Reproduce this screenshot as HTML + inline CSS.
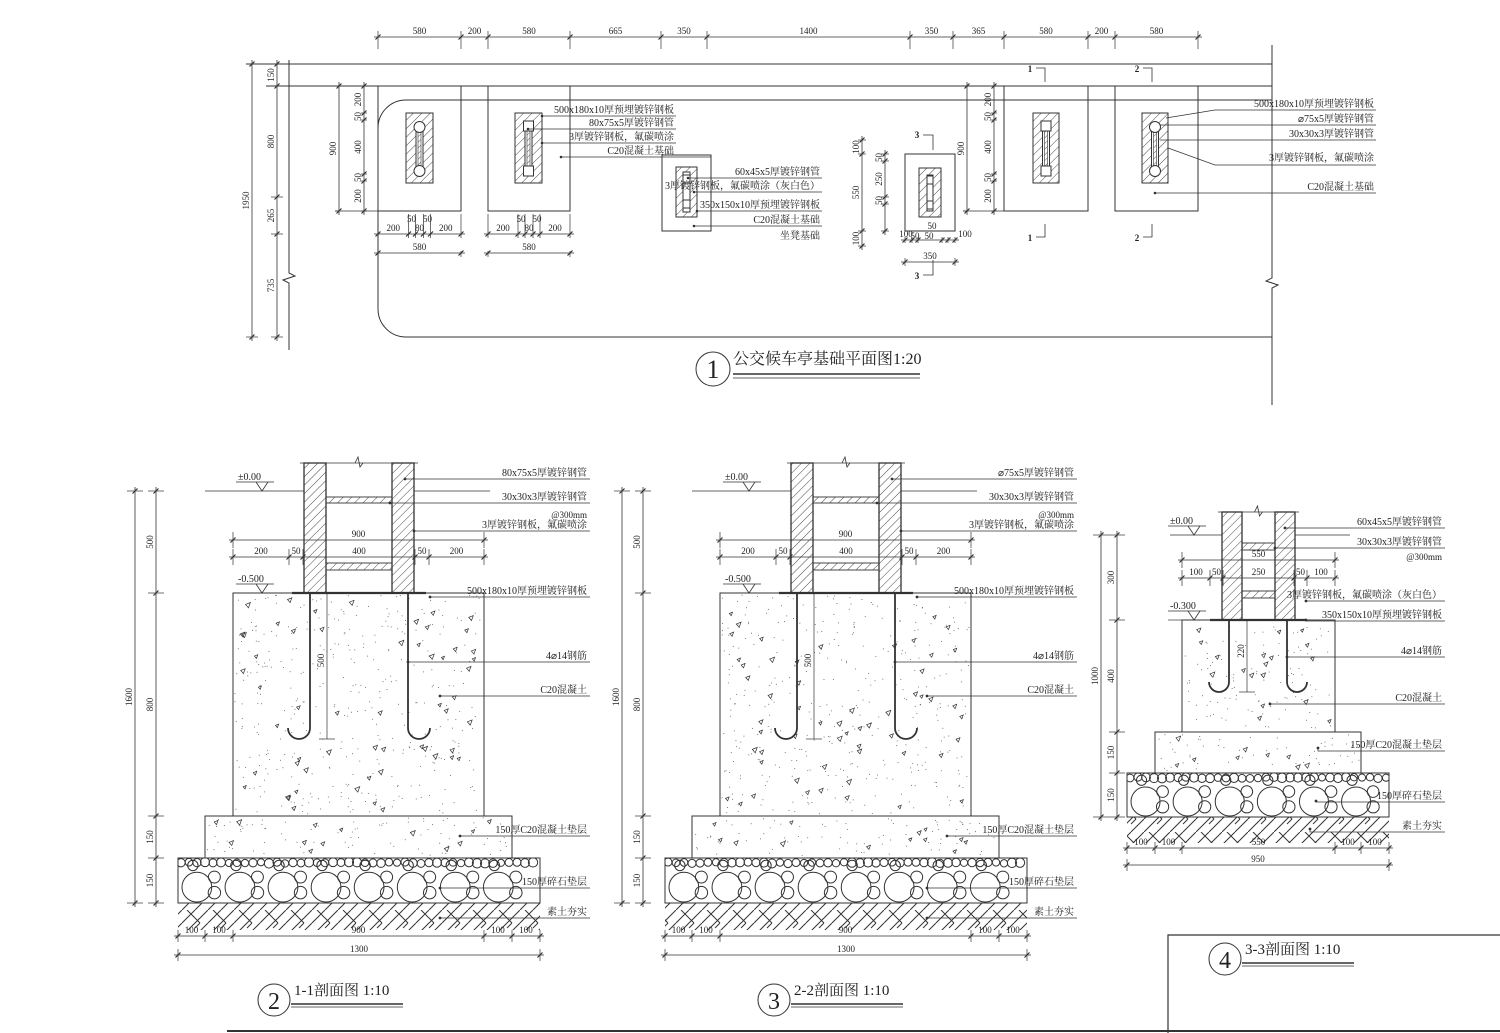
<!DOCTYPE html>
<html><head><meta charset="utf-8">
<style>
html,body{margin:0;padding:0;background:#fff;}
svg{display:block;}
text{font-family:"Liberation Serif","Noto Serif CJK SC",serif;fill:#222;}
</style></head>
<body>
<svg id="s" width="1500" height="1033" viewBox="0 0 1500 1033" xmlns="http://www.w3.org/2000/svg">
<defs>
<pattern id="h" patternUnits="userSpaceOnUse" width="6" height="6" patternTransform="rotate(45)">
<line x1="0" y1="0" x2="0" y2="6" stroke="#333" stroke-width="0.9"/></pattern>
<pattern id="hs" patternUnits="userSpaceOnUse" width="4" height="4" patternTransform="rotate(45)">
<line x1="0" y1="0" x2="0" y2="4" stroke="#333" stroke-width="0.8"/></pattern>
<pattern id="soil" patternUnits="userSpaceOnUse" width="26" height="26">
<path d="M0 26 L26 0 M13 26 L26 13 M0 13 L13 0 M5 0 L18 13 M18 13 L13 18" stroke="#333" stroke-width="1" fill="none"/></pattern>
</defs>
<g id="g" stroke="#333" stroke-width="1" fill="none"></g>
<g id="t" font-size="10"></g>
</svg>
<script>
const NS="http://www.w3.org/2000/svg";
const G=document.getElementById('g'),TT=document.getElementById('t');
function el(tag,a,par){const e=document.createElementNS(NS,tag);for(const k in a)e.setAttribute(k,a[k]);(par||G).appendChild(e);return e;}
function L(x1,y1,x2,y2,w){return el('line',{x1,y1,x2,y2,'stroke-width':w||1});}
function P(d,w,f){return el('path',{d,'stroke-width':w||1,fill:f||'none'});}
function R(x,y,w,h,f,sw){return el('rect',{x,y,width:w,height:h,fill:f||'none','stroke-width':sw||1});}
function C(cx,cy,r,f){return el('circle',{cx,cy,r,fill:f||'none'});}
function T(x,y,s,o){o=o||{};const e=el('text',{x,y,'font-size':o.size||10,'text-anchor':o.a||'middle'},TT);if(o.rot)e.setAttribute('transform',`rotate(-90 ${x} ${y})`);e.textContent=s;return e;}
function tick(x,y){L(x-2.5,y+2.5,x+2.5,y-2.5,1.2);}
function dimH(y,xs,labs,ext,sz){L(xs[0]-4,y,xs[xs.length-1]+4,y,0.8);xs.forEach(x=>{tick(x,y);if(ext)L(x,y-ext[0],x,y+ext[1],0.7);});labs.forEach((s,i)=>{if(s)T((xs[i]+xs[i+1])/2,y-3,s,{size:sz||9});});}
function dimV(x,ys,labs,ext,sz){L(x,ys[0]-4,x,ys[ys.length-1]+4,0.8);ys.forEach(y=>{tick(x,y);if(ext)L(x-ext[0],y,x+ext[1],y,0.7);});labs.forEach((s,i)=>{if(s)T(x-3,(ys[i]+ys[i+1])/2,s,{size:9,rot:1});});}
let seed=7;function rnd(){seed=(seed*9301+49297)%233280;return seed/233280;}

/* ================= PLAN ================= */
dimH(37,[378,461,488,570,661,707,910,953,1004,1088,1115,1198],['580','200','580','665','350','1400','350','365','580','200','580'],[6,12]);
L(246,64,1272,64);L(266,86,1272,86);
P('M1272 100 H406 A28 28 0 0 0 378 128 V309 A28 28 0 0 0 406 337 H1272');
P('M1272 45 V278 l-6 3 l12 4 l-6 3 V405');
P('M289 60 V273 l6 3 l-12 4 l6 3 V350');
dimV(252,[64,337],['1950'],[6,6]);
dimV(277,[64,86,197,234,337],['150','800','265','735'],[6,6]);
function footing(x,y,w,h){R(x,y,w,h);}
footing(378,86,83,125);footing(488,86,82,125);footing(1004,86,84,125);footing(1115,86,83,125);
L(335,211,461,211,0.8);
dimV(339,[86,211],['900'],[4,0]);
dimV(364,[86,113,120,174,181,211],['200','50','400','50','200'],[3,3]);
dimV(967,[86,211],['900'],[4,0]);
dimV(994,[86,113,120,174,181,211],['200','50','400','50','200'],[3,3]);
L(963,211,1004,211,0.8);
function postRound(x1,x2){R(x1,113,x2-x1,70,'url(#h)');const cx=(x1+x2)/2;R(cx-3.5,127,7,44,'#fff');R(cx-1.5,129,3,40,'url(#hs)',0.6);C(cx,127,5.5,'#fff');C(cx,171,5.5,'#fff');}
function postSq(x1,x2){R(x1,113,x2-x1,70,'url(#h)');const cx=(x1+x2)/2;R(cx-3.5,127,7,44,'#fff');R(cx-1.5,130,3,38,'url(#hs)',0.6);R(cx-5,121,10,10,'#fff');R(cx-5,166,10,10,'#fff');}
postRound(406,433);postSq(515,542);postSq(1033,1059);postRound(1142,1168);
[[378,461],[488,570]].forEach(([a,b])=>{const m=(a+b)/2;const xs=[a,m-11,m-4,m+4,m+11,b];dimH(234,xs,['200','','80','','200'],[20,4]);T(m-8,222,'50',{size:9});T(m+8,222,'50',{size:9});dimH(253,[a,b],['580'],[2,4]);});
R(662,155,49,76);R(676,167,21,50,'url(#h)');R(683,172,7,40,'#fff');R(683,175,7,8,'#fff');R(683,200,7,8,'#fff');
R(905,154,50,77);R(919,168,22,49,'url(#h)');R(927,175,6,36,'#fff');R(927,176,6,8,'#fff');R(927,201,6,8,'#fff');
dimV(862,[140,154,231,246],['100','550','100'],[4,4]);
dimV(885,[154,161,197,204,231],['50','250','50',''],[4,4]);
dimH(240,[905,912,918,942,948,955],['','','','',''],[3,3]);
T(906,237,'100',{size:9});T(965,237,'100',{size:9});T(915,239,'50',{size:9});T(929,239,'50',{size:9});T(932,229,'50',{size:9});
dimH(262,[905,955],['350'],[4,4]);
function mk(n,x,y,bx,y1,y2){T(x,y,n,{size:9,a:'middle'}).setAttribute('font-weight','bold');P(`M${x+6} ${y1} H${bx} V${y2}`,0.8);}
mk('1',1030,72,1045,68,82);mk('1',1030,241,1045,237,224);
mk('2',1137,72,1152,68,82);mk('2',1137,241,1152,237,224);
mk('3',917,138,933,135,150);mk('3',917,279,933,275,260);
function lab(x,y,s,from,sx,fy){T(x,y,s,{a:'end',size:10});P(`M${from[0]} ${from[1]} L${sx} ${y+3} H${x+2}`,0.7);C(from[0],from[1],0.8,'#333');}
lab(674,113,'500x180x10厚预埋镀锌钢板',[542,116],542);
lab(674,126,'80x75x5厚镀锌钢管',[528,129],528);
lab(674,140,'3厚镀锌钢板，氟碳喷涂',[542,143],542);
lab(674,154,'C20混凝土基础',[561,157],561);
L(676,157,711,157,0.7);
lab(820,175,'60x45x5厚镀锌钢管',[688,178],688);
lab(820,189,'3厚镀锌钢板，氟碳喷涂（灰白色）',[694,192],694);
lab(820,208,'350x150x10厚预埋镀锌钢板',[697,211],697);
lab(820,223,'C20混凝土基础',[694,226],694);
T(820,239,'坐凳基础',{a:'end'});
T(1374,107,'500x180x10厚预埋镀锌钢板',{a:'end'});P('M1166 118 L1215 110 H1376',0.7);
T(1374,122,'⌀75x5厚镀锌钢管',{a:'end'});P('M1160 125 H1376',0.7);
T(1374,137,'30x30x3厚镀锌钢管',{a:'end'});P('M1160 140 H1376',0.7);
T(1374,161,'3厚镀锌钢板，氟碳喷涂',{a:'end'});P('M1168 148 L1215 165 H1376',0.7);
T(1374,190,'C20混凝土基础',{a:'end'});P('M1155 193 H1376',0.7);C(1155,193,0.8,'#333');
C(713,369,17);T(713,378,'1',{size:26,a:'middle'});
T(733,364,'公交候车亭基础平面图1:20',{a:'start',size:16});
L(733,374,920,374,1.5);L(733,378,920,378,0.8);

/* ================= SECTIONS ================= */
function sec(p){
 R(p.gL,p.yGr,p.gR-p.gL,p.ySoil-p.yGr,'url(#soil)',0).setAttribute('stroke','none');
 R(p.gL,p.yPad,p.gR-p.gL,p.yGr-p.yPad,'#fff');
 const h=p.yGr-p.yPad;const gc=el('g',{});
 const cpid='cp'+p.gL;const cp=el('clipPath',{id:cpid},document.querySelector('defs'));el('rect',{x:p.gL,y:p.yPad,width:p.gR-p.gL,height:h},cp);
 gc.setAttribute('clip-path',`url(#${cpid})`);
 const bigR=h*0.33;const sp=bigR*2.9;
 for(let x=p.gL+bigR+4;x<p.gR;x+=sp){el('circle',{cx:x,cy:p.yGr-bigR-1,r:bigR},gc);}
 for(let x=p.gL+3;x<p.gR;x+=8){el('circle',{cx:x,cy:p.yPad+4+rnd()*1.5,r:3.5+rnd()*1.2},gc);}
 for(let x=p.gL+bigR*2.45;x<p.gR;x+=sp){el('circle',{cx:x,cy:p.yGr-bigR*0.7,r:bigR*0.42},gc);el('circle',{cx:x,cy:p.yGr-bigR*1.75,r:bigR*0.4},gc);el('circle',{cx:x-bigR*1.45,cy:p.yPad+bigR*0.5,r:bigR*0.35},gc);}
 R(p.gL,p.yPad,p.gR-p.gL,h);
 R(p.pL,p.yB,p.pR-p.pL,p.yPad-p.yB,'#fff');R(p.bL,p.yP,p.bR-p.bL,p.yB-p.yP,'#fff');
 const area=[[p.bL,p.yP,p.bR,p.yB],[p.pL,p.yB,p.pR,p.yPad]];
 area.forEach(([a,b,c,d])=>{const n=((c-a)*(d-b))/150;for(let i=0;i<n;i++){const x=a+2+rnd()*(c-a-4),y=b+2+rnd()*(d-b-4);el('circle',{cx:x,cy:y,r:0.5,fill:'#555',stroke:'none'});}
 const m=((c-a)*(d-b))/1000;for(let i=0;i<m;i++){const x=a+5+rnd()*(c-a-10),y=b+5+rnd()*(d-b-10);const z=3+rnd()*2;P(`M${x} ${y} l${z} ${-z*0.4} l${-z*0.4} ${z*1.1} Z`,0.7);}});
 p.posts.forEach(([a,b])=>{R(a,p.yTop,b-a,p.yP-p.yTop,'url(#h)',1.3);});
 p.cross.forEach(([a,b])=>{R(p.posts[0][1],a,p.posts[1][0]-p.posts[0][1],b-a,'url(#h)',0.9);});
 L(p.posts[0][0]-4,p.yTop,p.posts[1][1]+4,p.yTop,0.8);
 const mx=(p.posts[0][1]+p.posts[1][0])/2;P(`M${mx-4} ${p.yTop} l3 -6 l2 10 l3 -4`,0.8);
 L(p.posts[0][0]-12,p.yP,p.posts[1][1]+12,p.yP,2.2);
 const [r1,r2]=p.reb;const hr=p.hr;
 P(`M${r1} ${p.yP} V${p.yH} A${hr} ${hr} 0 0 1 ${r1-2*hr} ${p.yH}`,1.8);
 P(`M${r2} ${p.yP} V${p.yH} A${hr} ${hr} 0 0 0 ${r2+2*hr} ${p.yH}`,1.8);
 L(p.rd,p.yP,p.rd,p.yH+hr,0.7);L(p.rd-8,p.yH+hr,p.rd+8,p.yH+hr,0.7);T(p.rd-3,(p.yP+p.yH)/2,p.rdl,{size:9,rot:1});
 L(p.gnd[0],p.yG,p.posts[0][0],p.yG,0.8);L(p.posts[1][1],p.yG,p.gnd[1],p.yG,0.8);
 function lvl(x,y,s){T(x,y-11,s,{a:'start',size:10});L(x-2,y-9,x+36,y-9,0.7);P(`M${x+18} ${y-9} L${x+24} ${y} L${x+30} ${y-9}`,0.8);}
 lvl(p.lvx,p.yG,'±0.00');
 lvl(p.lvx,p.yP,p.lv2);
 L(p.lvx-2,p.yP,p.bL,p.yP,0.7);
 dimH(p.dy1,[p.bL,p.bR],[p.w1],[8,8]);
 dimH(p.dy2,p.dx2,p.dl2,[8,8]);
 dimH(p.by1,[p.gL,p.pL,p.bL,p.bR,p.pR,p.gR],['100','100',p.bw,'100','100'],[6,6],9);
 dimH(p.by2,[p.gL,p.gR],[p.tw],[6,6],9);
 dimV(p.lx1,[p.yG,p.yGr],[p.th],[8,8]);
 dimV(p.lx2,[p.yG,p.yP,p.yB,p.yPad,p.yGr],p.vl,[8,8]);
 p.labels.forEach(([y,s,fx,fy])=>{T(p.lbx,y,s,{a:'end',size:10});P(`M${fx} ${fy} L${fx} ${y+3} H${p.lbx+3}`,0.7);C(fx,fy,0.9,'#333');});
}
const base={gL:178,gR:540,pL:205,pR:512,bL:233,bR:484,yP:593,yB:816,yPad:858,yGr:903,ySoil:930,posts:[[304,326],[392,414]],yTop:463,yG:491,cross:[[497,503],[563,570]],reb:[310,408],yH:728,hr:11,rd:327,rdl:'500',gnd:[205,490],lvx:238,lv2:'-0.500',dy1:540,dy2:557,w1:'900',by1:936,by2:955,bw:'900',tw:'1300',lx1:135,lx2:156,th:'1600',vl:['500','800','150','150'],lbx:587};
function mkp(dx,first){const p=JSON.parse(JSON.stringify(base));['gL','gR','pL','pR','bL','bR','rd','lvx','lx1','lx2','lbx'].forEach(k=>p[k]+=dx);p.posts=p.posts.map(a=>a.map(v=>v+dx));p.reb=p.reb.map(v=>v+dx);p.gnd=p.gnd.map(v=>v+dx);
 p.dx2=[233,289,303,415,429,484].map(v=>v+dx);p.dl2=['200','50','400','50','200'];
 p.labels=[[476,first,405+dx,479],[500,'30x30x3厚镀锌钢管',390+dx,503],[528,'3厚镀锌钢板，氟碳喷涂',414+dx,531],[594,'500x180x10厚预埋镀锌钢板',430+dx,597],[659,'4⌀14钢筋',408+dx,662],[693,'C20混凝土',440+dx,696],[833,'150厚C20混凝土垫层',460+dx,836],[885,'150厚碎石垫层',440+dx,888],[915,'素土夯实',440+dx,918]];
 return p;}
const p1=mkp(0,'80x75x5厚镀锌钢管');sec(p1);T(587,518,'@300mm',{a:'end',size:9});
const p2=mkp(487,'⌀75x5厚镀锌钢管');sec(p2);T(1074,518,'@300mm',{a:'end',size:9});
const p3={gL:1127,gR:1389,pL:1155,pR:1361,bL:1182,bR:1335,yP:620,yB:732,yPad:773,yGr:817,ySoil:843,posts:[[1222,1242],[1275,1295]],yTop:512,yG:535,cross:[[543,550],[591,598]],reb:[1229,1287],yH:682,hr:10,rd:1247,rdl:'220',gnd:[1170,1350],lvx:1170,lv2:'-0.300',dy1:560,dy2:578,w1:'550',dx2:[1182,1210,1223,1294,1307,1335],dl2:['100','50','250','50','100'],by1:848,by2:865,bw:'550',tw:'950',lx1:1101,lx2:1117,th:'1000',vl:['300','400','150','150'],lbx:1442,
labels:[[525,'60x45x5厚镀锌钢管',1285,528],[545,'30x30x3厚镀锌钢管',1275,548],[598,'3厚镀锌钢板，氟碳喷涂（灰白色）',1306,601],[618,'350x150x10厚预埋镀锌钢板',1306,620],[654,'4⌀14钢筋',1287,657],[701,'C20混凝土',1270,704],[748,'150厚C20混凝土垫层',1318,748],[799,'150厚碎石垫层',1316,801],[829,'素土夯实',1310,829]]};
sec(p3);T(1442,560,'@300mm',{a:'end',size:9});

function ttl(cx,cy,n,s,len){C(cx,cy,16);T(cx,cy+9,n,{size:24});T(cx+20,cy-5,s,{a:'start',size:15});L(cx+17,cy+4,cx+17+len,cy+4,1.5);L(cx+17,cy+7,cx+17+len,cy+7,0.8);}
ttl(274,1000,'2','1-1剖面图  1:10',112);
ttl(774,1000,'3','2-2剖面图  1:10',112);
ttl(1225,959,'4','3-3剖面图  1:10',112);
L(227,1031,1500,1031,2);
P('M1168 1033 V935 H1500',1.2);
</script>
</body></html>
